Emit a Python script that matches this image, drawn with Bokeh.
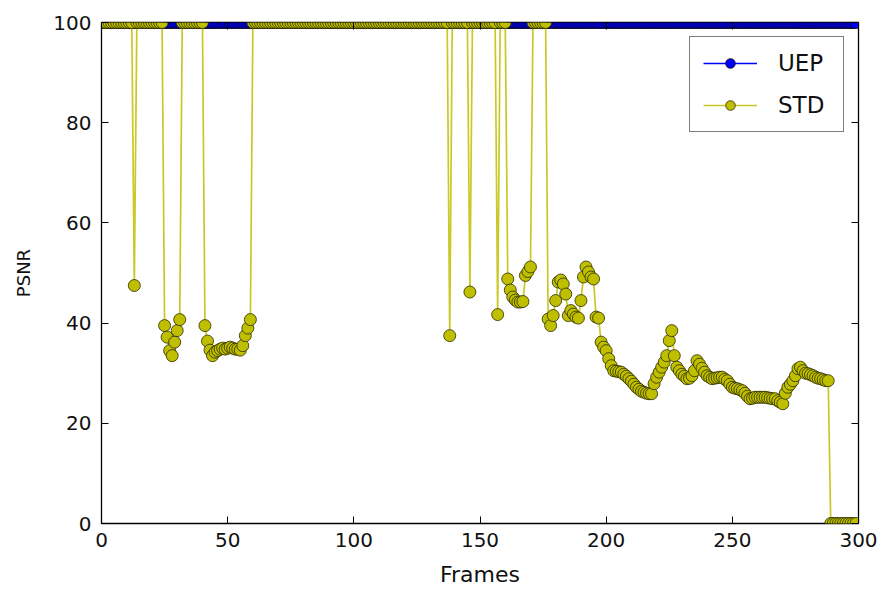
import math
from bokeh.plotting import figure
from bokeh.models import (Range1d, FixedTicker, LinearAxis, Legend, LegendItem,
                          CustomJSTickFormatter, ColumnDataSource)
from bokeh.embed import file_html
from bokeh.resources import INLINE

# Frame index of each decoded picture
frames = list(range(300))

# PSNR per frame, unequal error protection (never drops below the cap)
uep_psnr = [
    100, 100, 100, 100, 100, 100, 100, 100, 100, 100, 100, 100, 100, 100, 100, 100, 100, 100, 100, 100,
    100, 100, 100, 100, 100, 100, 100, 100, 100, 100, 100, 100, 100, 100, 100, 100, 100, 100, 100, 100,
    100, 100, 100, 100, 100, 100, 100, 100, 100, 100, 100, 100, 100, 100, 100, 100, 100, 100, 100, 100,
    100, 100, 100, 100, 100, 100, 100, 100, 100, 100, 100, 100, 100, 100, 100, 100, 100, 100, 100, 100,
    100, 100, 100, 100, 100, 100, 100, 100, 100, 100, 100, 100, 100, 100, 100, 100, 100, 100, 100, 100,
    100, 100, 100, 100, 100, 100, 100, 100, 100, 100, 100, 100, 100, 100, 100, 100, 100, 100, 100, 100,
    100, 100, 100, 100, 100, 100, 100, 100, 100, 100, 100, 100, 100, 100, 100, 100, 100, 100, 100, 100,
    100, 100, 100, 100, 100, 100, 100, 100, 100, 100, 100, 100, 100, 100, 100, 100, 100, 100, 100, 100,
    100, 100, 100, 100, 100, 100, 100, 100, 100, 100, 100, 100, 100, 100, 100, 100, 100, 100, 100, 100,
    100, 100, 100, 100, 100, 100, 100, 100, 100, 100, 100, 100, 100, 100, 100, 100, 100, 100, 100, 100,
    100, 100, 100, 100, 100, 100, 100, 100, 100, 100, 100, 100, 100, 100, 100, 100, 100, 100, 100, 100,
    100, 100, 100, 100, 100, 100, 100, 100, 100, 100, 100, 100, 100, 100, 100, 100, 100, 100, 100, 100,
    100, 100, 100, 100, 100, 100, 100, 100, 100, 100, 100, 100, 100, 100, 100, 100, 100, 100, 100, 100,
    100, 100, 100, 100, 100, 100, 100, 100, 100, 100, 100, 100, 100, 100, 100, 100, 100, 100, 100, 100,
    100, 100, 100, 100, 100, 100, 100, 100, 100, 100, 100, 100, 100, 100, 100, 100, 100, 100, 100, 100,
]

# PSNR per frame, standard (equal) protection
std_psnr = [
    100, 100, 100, 100, 100, 100, 100, 100, 100, 100, 100, 100, 100, 47.5, 100, 100, 100, 100, 100, 100,
    100, 100, 100, 100, 100, 39.5, 37.2, 34.5, 33.5, 36.2, 38.5, 40.7, 100, 100, 100, 100, 100, 100, 100, 100,
    100, 39.5, 36.4, 34.6, 33.5, 34.2, 34.5, 34.8, 35.0, 34.8, 35.0, 35.2, 35.0, 34.8, 34.8, 34.6, 35.5, 37.5, 39.0, 40.7,
    100, 100, 100, 100, 100, 100, 100, 100, 100, 100, 100, 100, 100, 100, 100, 100, 100, 100, 100, 100,
    100, 100, 100, 100, 100, 100, 100, 100, 100, 100, 100, 100, 100, 100, 100, 100, 100, 100, 100, 100,
    100, 100, 100, 100, 100, 100, 100, 100, 100, 100, 100, 100, 100, 100, 100, 100, 100, 100, 100, 100,
    100, 100, 100, 100, 100, 100, 100, 100, 100, 100, 100, 100, 100, 100, 100, 100, 100, 100, 37.5, 100,
    100, 100, 100, 100, 100, 100, 46.2, 100, 100, 100, 100, 100, 100, 100, 100, 100, 100, 41.7, 100, 100,
    100, 48.8, 46.6, 45.2, 44.6, 44.2, 44.2, 44.3, 49.5, 50.3, 51.2, 100, 100, 100, 100, 100, 100, 40.8, 39.5, 41.5,
    44.5, 48.2, 48.6, 47.8, 45.8, 41.5, 42.5, 41.8, 41.2, 41.0, 44.5, 49.2, 51.2, 50.2, 49.2, 48.8, 41.2, 41.0, 36.2, 35.2,
    34.5, 32.9, 31.5, 30.5, 30.4, 30.3, 30.2, 29.8, 29.4, 28.9, 28.4, 27.8, 27.2, 26.8, 26.4, 26.2, 26.0, 25.9, 25.9, 27.9,
    29.2, 30.2, 31.2, 32.2, 33.5, 36.5, 38.5, 33.5, 31.2, 30.5, 29.8, 29.4, 28.9, 29.0, 29.5, 30.5, 32.5, 31.8, 31.0, 30.2,
    29.5, 29.2, 28.9, 29.0, 29.1, 29.2, 29.2, 28.8, 28.5, 27.8, 27.2, 27.0, 26.9, 26.7, 26.5, 26.0, 25.4, 24.9, 25.0, 25.2,
    25.2, 25.2, 25.2, 25.2, 25.1, 25.0, 24.9, 24.9, 24.5, 24.2, 23.9, 26.0, 27.2, 27.8, 28.5, 29.5, 30.9, 31.2, 30.5, 30.0,
    29.9, 29.7, 29.5, 29.2, 29.0, 28.9, 28.7, 28.5, 28.5, 0, 0, 0, 0, 0, 0, 0, 0, 0, 0, 0,
]

x_ticks = [0, 50, 100, 150, 200, 250, 300]
y_ticks = [0, 20, 40, 60, 80, 100]

FONT = "DejaVu Sans"
UEP_COLOR = "#0000ff"
STD_COLOR = "#bfbf00"
Y_LO, Y_HI = 0, 100
DOT_R = 6  # marker radius in pixels

p = figure(width=881, height=594, output_backend="svg", toolbar_location=None,
           x_range=Range1d(0, 300), y_range=Range1d(Y_LO, Y_HI),
           min_border_left=101, min_border_right=23,
           min_border_top=22, min_border_bottom=71,
           x_axis_label="Frames", y_axis_label="PSNR")
p.grid.visible = False
p.background_fill_color = "white"
p.border_fill_color = "white"
p.outline_line_color = "black"
p.outline_line_width = 1.3

for ax, ticks in ((p.xaxis[0], x_ticks), (p.yaxis[0], y_ticks)):
    ax.ticker = FixedTicker(ticks=ticks)
    ax.axis_line_color = None
    ax.major_tick_in = 7
    ax.major_tick_out = 0
    ax.major_tick_line_color = "black"
    ax.minor_tick_line_color = None
    ax.major_label_text_font = FONT
    ax.major_label_text_font_size = "20px"
    ax.major_label_text_color = "#111111"
    ax.axis_label_text_font = FONT
    ax.axis_label_text_font_style = "normal"
    ax.axis_label_text_color = "#111111"

p.xaxis[0].major_label_standoff = 9
p.xaxis[0].axis_label_text_font_size = "22px"
p.xaxis[0].axis_label_standoff = 12
p.yaxis[0].major_label_standoff = 10
p.yaxis[0].axis_label_text_font_size = "18px"
p.yaxis[0].axis_label_standoff = 16

# Inward ticks on the top and right edges, without labels
for side, ticks in (("above", x_ticks), ("right", y_ticks)):
    extra = LinearAxis(ticker=FixedTicker(ticks=ticks),
                       formatter=CustomJSTickFormatter(code="return ''"),
                       axis_line_color=None, major_tick_in=7, major_tick_out=0,
                       major_tick_line_color="black", minor_tick_line_color=None,
                       major_label_text_font_size="0px", major_label_standoff=0)
    p.add_layout(extra, side)


def split(values):
    """Separate points lying on the y limits (drawn as half discs, cut by the frame)."""
    inner = dict(x=[], y=[])
    top = dict(x=[], y=[])
    bottom = dict(x=[], y=[])
    for f, v in zip(frames, values):
        if v >= Y_HI:
            top["x"].append(f); top["y"].append(v)
        elif v <= Y_LO:
            bottom["x"].append(f); bottom["y"].append(v)
        else:
            inner["x"].append(f); inner["y"].append(v)
    return inner, top, bottom


def draw_series(values, color, edge, line_alpha):
    line = p.line(frames, values, line_color=color, line_width=1.7, line_alpha=line_alpha)
    inner, top, bottom = split(values)
    dot_style = dict(size=2 * DOT_R, fill_color=color, line_color=edge, line_width=0.8)
    p.scatter("x", "y", source=ColumnDataSource(inner), **dot_style)
    wedge_style = dict(radius=DOT_R, radius_units="screen", fill_color=color,
                       line_color=edge, line_width=0.8, direction="anticlock")
    p.wedge("x", "y", source=ColumnDataSource(top), start_angle=math.pi,
            end_angle=2 * math.pi, **wedge_style)
    p.wedge("x", "y", source=ColumnDataSource(bottom), start_angle=0,
            end_angle=math.pi, **wedge_style)
    # full-disc marker for the legend swatch only
    key = p.scatter(frames, values, visible=False, **dot_style)
    return line, key


uep_line, uep_key = draw_series(uep_psnr, UEP_COLOR, "black", 1.0)
std_line, std_key = draw_series(std_psnr, STD_COLOR, "#2b2b00", 0.85)

legend = Legend(items=[LegendItem(label="UEP", renderers=[uep_line, uep_key]),
                       LegendItem(label="STD", renderers=[std_line, std_key])],
                location="top_right", margin=14, padding=13, spacing=16,
                glyph_width=54, glyph_height=24, label_height=24, label_width=52,
                label_standoff=21,
                label_text_font=FONT, label_text_font_size="23px",
                label_text_color="#111111",
                border_line_color="black", border_line_width=1.3,
                background_fill_color="white", background_fill_alpha=1.0)
p.add_layout(legend)

open("out.html", "w").write(file_html(p, INLINE))
